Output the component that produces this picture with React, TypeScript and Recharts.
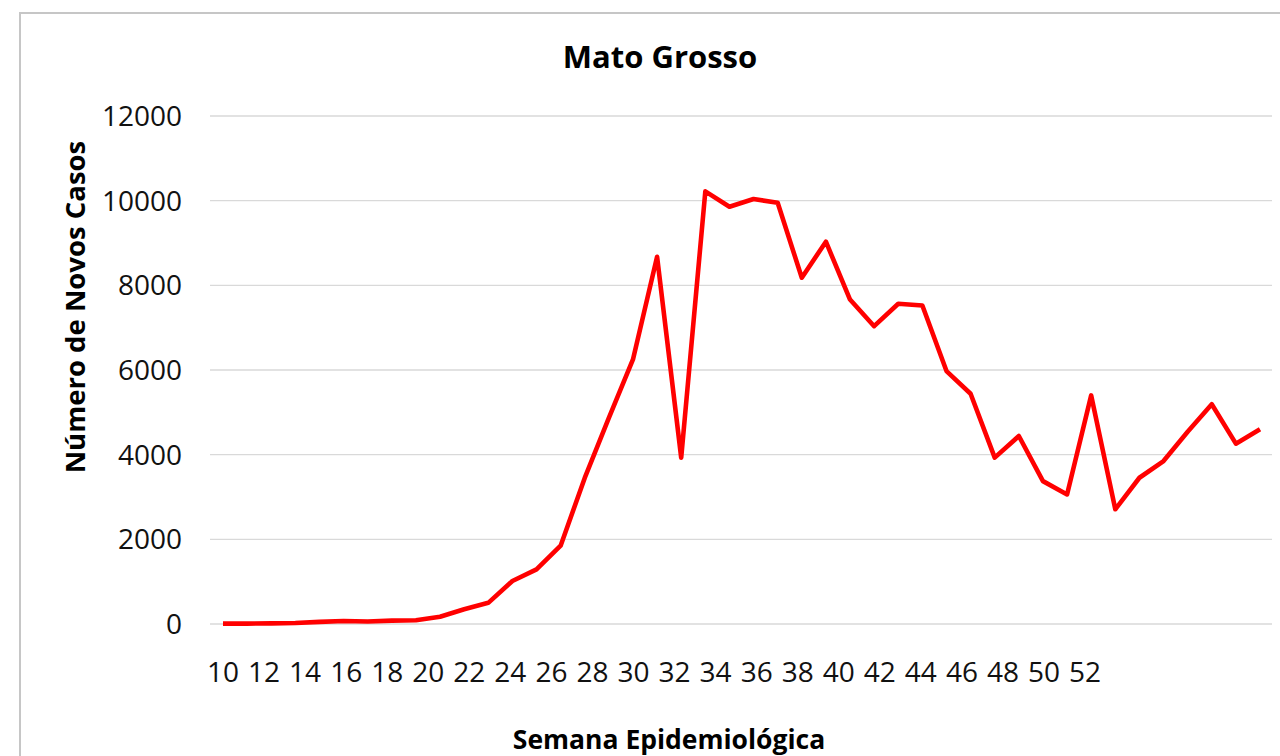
import { CartesianGrid, Line, LineChart, XAxis, YAxis } from 'recharts';

// semanas epidemiológicas com dados (a série vai além da última etiqueta do eixo)
const WEEKS = [
  '10', '11', '12', '13', '14', '15', '16', '17', '18', '19', '20', '21',
  '22', '23', '24', '25', '26', '27', '28', '29', '30', '31', '32', '33',
  '34', '35', '36', '37', '38', '39', '40', '41', '42', '43', '44', '45',
  '46', '47', '48', '49', '50', '51', '52', '53',
];

const NEW_CASES = [
  10, 10, 15, 25, 50, 70, 60, 80, 90, 170, 350, 500,
  1015, 1290, 1850, 3450, 4870, 6250, 8675, 3930, 10220, 9855, 10040, 9950,
  8180, 9030, 7665, 7035, 7565, 7525, 5975, 5440, 3930, 4440, 3375, 3060,
  5400, 2710, 3455, 3850, 4540, 5190, 4260, 4600,
];

// etiquetas tal como aparecem no eixo x (mais compactas que os pontos)
const X_TICK_LABELS = [
  '10', '12', '14', '16', '18', '20', '22', '24', '26', '28', '30',
  '32', '34', '36', '38', '40', '42', '44', '46', '48', '50', '52',
];

const Y_TICKS = [0, 2000, 4000, 6000, 8000, 10000, 12000];

const data = WEEKS.map((week, i) => ({ week, cases: NEW_CASES[i] }));
const labelTicks = X_TICK_LABELS.map((_, i) => i);

const FONT = '"Open Sans", "Noto Sans", sans-serif';
const tickStyle = { fontSize: 28, fill: '#111', fontFamily: FONT };

export default function App() {
  return (
    <div
      style={{
        position: 'absolute',
        left: 0,
        top: 0,
        width: 1280,
        height: 756,
        overflow: 'hidden',
        background: '#fff',
        fontFamily: FONT,
      }}
    >
      <div
        style={{
          position: 'absolute',
          left: 19,
          top: 12,
          width: 1300,
          height: 800,
          border: '2px solid #c6c6c6',
          boxSizing: 'border-box',
        }}
      />
      <LineChart
        width={1280}
        height={756}
        data={data}
        margin={{ top: 116, right: 8, bottom: 72, left: 0 }}
        style={{ position: 'absolute', left: 0, top: 0 }}
      >
        <CartesianGrid vertical={false} stroke="#d9d9d9" strokeWidth={1.3} />
        <XAxis dataKey="week" type="category" hide padding={{ left: 13, right: 12 }} />
        <XAxis
          xAxisId="labels"
          dataKey="labelSlot"
          type="number"
          domain={[-0.3167, 25.554]}
          allowDataOverflow
          ticks={labelTicks}
          interval={0}
          tickFormatter={(v) => X_TICK_LABELS[v] ?? ''}
          axisLine={false}
          tickLine={false}
          tickSize={0}
          tickMargin={8}
          height={60}
          tick={tickStyle}
        />
        <YAxis
          domain={[0, 12000]}
          ticks={Y_TICKS}
          interval={0}
          width={210}
          axisLine={false}
          tickLine={false}
          tickSize={0}
          tickMargin={28}
          tick={tickStyle}
        />
        <Line
          type="linear"
          dataKey="cases"
          stroke="#ff0000"
          strokeWidth={4.6}
          strokeLinejoin="round"
          dot={false}
          activeDot={false}
          isAnimationActive={false}
        />
      </LineChart>
      <div
        style={{
          position: 'absolute',
          left: 660,
          top: 56,
          transform: 'translate(-50%, -50%)',
          fontSize: 31,
          fontWeight: 700,
          color: '#000',
          whiteSpace: 'nowrap',
        }}
      >
        Mato Grosso
      </div>
      <div
        style={{
          position: 'absolute',
          left: 74,
          top: 307,
          transform: 'translate(-50%, -50%) rotate(-90deg)',
          fontSize: 27.5,
          fontWeight: 700,
          color: '#000',
          whiteSpace: 'nowrap',
        }}
      >
        Número de Novos Casos
      </div>
      <div
        style={{
          position: 'absolute',
          left: 669,
          top: 739,
          transform: 'translate(-50%, -50%)',
          fontSize: 26.5,
          fontWeight: 700,
          color: '#000',
          whiteSpace: 'nowrap',
        }}
      >
        Semana Epidemiológica
      </div>
    </div>
  );
}
